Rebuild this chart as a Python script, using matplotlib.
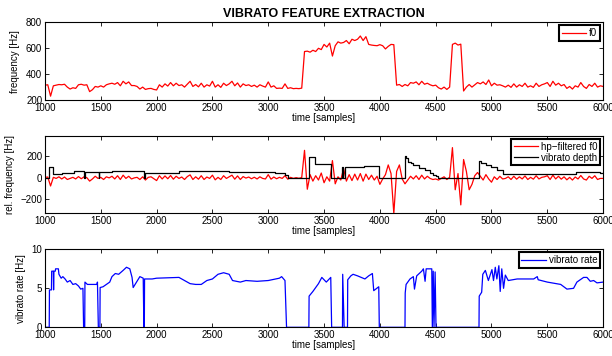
import numpy as np
import matplotlib.pyplot as plt

plt.rcParams['font.family'] = ['Liberation Sans', 'DejaVu Sans']

# time grid (samples) for f0 and hp-filtered f0
t = np.arange(1000, 6001, 25)

f0 = [
    315, 318, 230, 310, 315, 320, 318, 322, 300, 285, 295, 290, 318, 322, 315, 318, 265, 280, 305, 300,
    310, 300, 318, 325, 330, 322, 335, 310, 345, 325, 340, 312, 312, 305, 285, 300, 282, 288, 290, 282,
    278, 318, 300, 325, 308, 335, 310, 330, 312, 318, 300, 322, 345, 305, 320, 302, 330, 300, 318, 308,
    345, 300, 318, 298, 330, 312, 325, 345, 310, 332, 300, 325, 312, 318, 305, 315, 300, 318, 308, 300,
    340, 300, 310, 290, 292, 290, 325, 290, 295, 288, 290, 288, 292, 575, 578, 570, 585, 575, 600, 590,
    630, 610, 640, 540, 620, 650, 640, 645, 660, 635, 670, 660, 670, 695, 660, 690, 630, 625, 622, 620,
    628, 620, 595, 615, 630, 628, 315, 320, 305, 320, 310, 335, 330, 340, 318, 345, 322, 330, 318, 310,
    315, 295, 285, 300, 282, 300, 630, 640, 625, 632, 270, 300, 320, 300, 318, 335, 325, 340, 320, 355,
    310, 330, 315, 318, 310, 300, 315, 298, 325, 300, 318, 305, 330, 300, 310, 298, 330, 305, 318, 325,
    335, 305, 345, 315, 330, 310, 320, 290, 305, 285, 310, 300, 335, 305, 290, 320, 305, 330, 300, 310,
    305,
]

hp_f0 = [
    5, 8, -75, 5, -5, 10, -10, 8, -15, -5, 5, -10, 12, -8, 10, 2, -30, -10, 15, -5,
    5, -15, 10, 0, 15, -10, 20, -15, 25, -5, 15, -10, 0, 5, -15, 10, -20, 5, 10, -8,
    -25, 20, -10, 18, -8, 22, -12, 15, -5, 8, -15, 12, 28, -15, 10, -12, 20, -15, 8, -5,
    25, -18, 5, -15, 20, -5, 10, 25, -12, 18, -15, 12, -2, 8, -8, 6, -10, 10, -5, -10,
    30, -12, 8, -8, 5, -5, 20, -12, 5, -5, 2, -4, 3, 255, -105, 30, -30, 20, -20, 45,
    -45, 10, -30, 160, -55, 10, -20, 85, -30, 30, -25, 35, -20, 40, -30, 35, -15, 25, -20, 15,
    -60, -10, 30, 120, 40, -330, 60, 120, -10, -55, -20, 15, -10, 20, -15, 25, -10, 15, -5, -15,
    -10, -20, -5, 10, -15, 5, 280, -110, 40, -250, 170, 60, -110, -60, 20, 50, 15, -20, 30, -10,
    -40, 10, -15, 15, -10, -5, 10, -15, 15, -12, 10, -10, 18, -15, 5, -12, 20, -10, 5, 10,
    20, -15, 25, -10, 15, -12, 10, -18, 5, -20, 8, -10, 22, -10, -20, 15, -5, 20, -15, -5,
    -5,
]

# vibrato depth (piecewise constant)
depth_t = [1000, 1040, 1075, 1150, 1260, 1350, 1356, 1480, 1486, 1600, 1890, 1896, 2200, 2650,
           2900, 3060, 3150, 3175, 3365, 3415, 3560, 3665, 3670, 3688, 3860, 3995, 4222, 4235,
           4250, 4275, 4300, 4350, 4400, 4450, 4480, 4500, 4520, 4888, 4910, 4950, 5000, 5050,
           5100, 5300, 5500, 5755, 5900, 5970, 6000]
depth = [0, 100, 40, 45, 65, 0, 50, 0, 55, 60, 0, 45, 60, 58,
         55, 45, 25, 0, 195, 130, 0, 100, 0, 100, 110, 0, 200, 180,
         150, 140, 120, 95, 70, 45, 30, 15, 0, 160, 140, 120, 100, 75,
         40, 38, 40, 55, 50, 45, 45]

# vibrato rate
rate_t = [1000, 1038, 1040, 1058, 1060, 1075, 1077, 1080, 1092, 1095, 1120, 1125, 1145, 1160, 1180,
          1200, 1225, 1250, 1275, 1300, 1320, 1340, 1346, 1356, 1358, 1380, 1465, 1470, 1478, 1492,
          1494, 1520, 1550, 1580, 1600, 1630, 1660, 1700, 1730, 1760, 1780, 1790, 1820, 1850, 1880,
          1886, 1890, 1892, 1960, 2000, 2200, 2250, 2300, 2350, 2400, 2450, 2500, 2550, 2600, 2650,
          2680, 2750, 2800, 2900, 3000, 3100, 3120, 3150, 3164, 3364, 3366, 3400, 3450, 3480, 3520,
          3560, 3568, 3665, 3667, 3680, 3710, 3712, 3740, 3760, 3800, 3866, 3900, 3933, 3945, 3990,
          3995, 4225, 4227, 4235, 4270, 4300, 4310, 4330, 4375, 4390, 4405, 4415, 4465, 4470, 4478,
          4485, 4495, 4503, 4888, 4890, 4912, 4922, 4945, 4972, 5004, 5018, 5034, 5048, 5066, 5078,
          5092, 5108, 5124, 5150, 5230, 5378, 5410, 5418, 5500, 5620, 5676, 5735, 5765, 5825, 5855,
          5885, 5915, 5945, 6000]
rate = [0, 0, 4.8, 4.8, 7.2, 7.2, 4.8, 7.2, 7.2, 7.5, 7.5, 6.8, 6.3, 6.5, 6.2,
        5.8, 6.0, 5.5, 5.6, 5.3, 4.9, 5.0, 0, 0, 5.8, 5.5, 5.5, 5.8, 0, 0,
        5.1, 5.2, 5.5, 5.8, 6.5, 6.9, 6.8, 7.3, 7.7, 7.5, 6.4, 5.1, 5.8, 6.5, 6.3,
        0, 0, 6.2, 6.2, 6.3, 6.4, 6.0, 5.6, 5.5, 5.5, 6.0, 6.2, 6.8, 7.0, 6.8,
        6.0, 5.8, 6.0, 5.9, 6.0, 6.3, 6.5, 6.0, 0, 0, 4.0, 4.6, 5.6, 6.4, 5.8,
        6.4, 0, 0, 6.8, 0, 0, 6.1, 6.6, 6.8, 6.6, 6.2, 6.6, 6.9, 4.7, 5.2,
        0, 0, 4.4, 5.5, 6.2, 6.5, 4.9, 6.6, 7.2, 7.5, 5.9, 7.5, 7.5, 0, 7.2,
        0, 7.1, 0, 0, 4.0, 4.5, 6.8, 7.3, 6.0, 7.4, 6.0, 7.7, 6.2, 7.9, 4.6,
        7.5, 5.0, 6.7, 6.0, 6.2, 6.2, 6.5, 6.1, 5.8, 5.5, 4.9, 5.0, 5.8, 6.4, 6.4,
        5.9, 6.0, 5.7, 5.8]

fig = plt.figure(figsize=(6.12, 3.56), dpi=100)
ax1 = fig.add_axes([0.0735, 0.719, 0.912, 0.218])
ax2 = fig.add_axes([0.0735, 0.4017, 0.912, 0.217])
ax3 = fig.add_axes([0.0735, 0.0806, 0.912, 0.219])

ax1.plot(t, f0, color='red', lw=0.9, label='f0')
ax1.set_ylim(200, 800)
ax1.set_yticks([200, 400, 600, 800])
ax1.set_ylabel('frequency [Hz]', fontsize=7)
ax1.set_title('VIBRATO FEATURE EXTRACTION', fontsize=9, fontweight='bold', pad=4)

ax2.plot(t, hp_f0, color='red', lw=0.9, label='hp\u2212filtered f0')
ax2.step(depth_t, depth, where='post', color='black', lw=0.9, label='vibrato depth')
ax2.set_ylim(-325, 390)
ax2.set_yticks([-200, 0, 200])
ax2.set_yticklabels(['\u2212200', '0', '200'])
ax2.set_ylabel('rel. frequency [Hz]', fontsize=7)

ax3.plot(rate_t, rate, color='blue', lw=0.9, label='vibrato rate')
ax3.set_ylim(0, 10)
ax3.set_yticks([0, 5, 10])
ax3.set_ylabel('vibrato rate [Hz]', fontsize=7)

for ax in (ax1, ax2, ax3):
    ax.set_xlim(1000, 6000)
    ax.set_xticks(np.arange(1000, 6001, 500))
    ax.set_xlabel('time [samples]', fontsize=7, labelpad=0)
    ax.tick_params(direction='in', top=True, right=True, labelsize=7, length=3, width=0.6, pad=2)
    for s in ax.spines.values():
        s.set_linewidth(0.8)
    leg = ax.legend(loc='upper right', fontsize=7, fancybox=False, framealpha=1,
                    borderaxespad=0.3, handlelength=2.5, borderpad=0.3, labelspacing=0.1,
                    handletextpad=0.3)
    leg.get_frame().set_edgecolor('black')
    leg.get_frame().set_linewidth(1.5)

fig.savefig('out.png', dpi=100)
